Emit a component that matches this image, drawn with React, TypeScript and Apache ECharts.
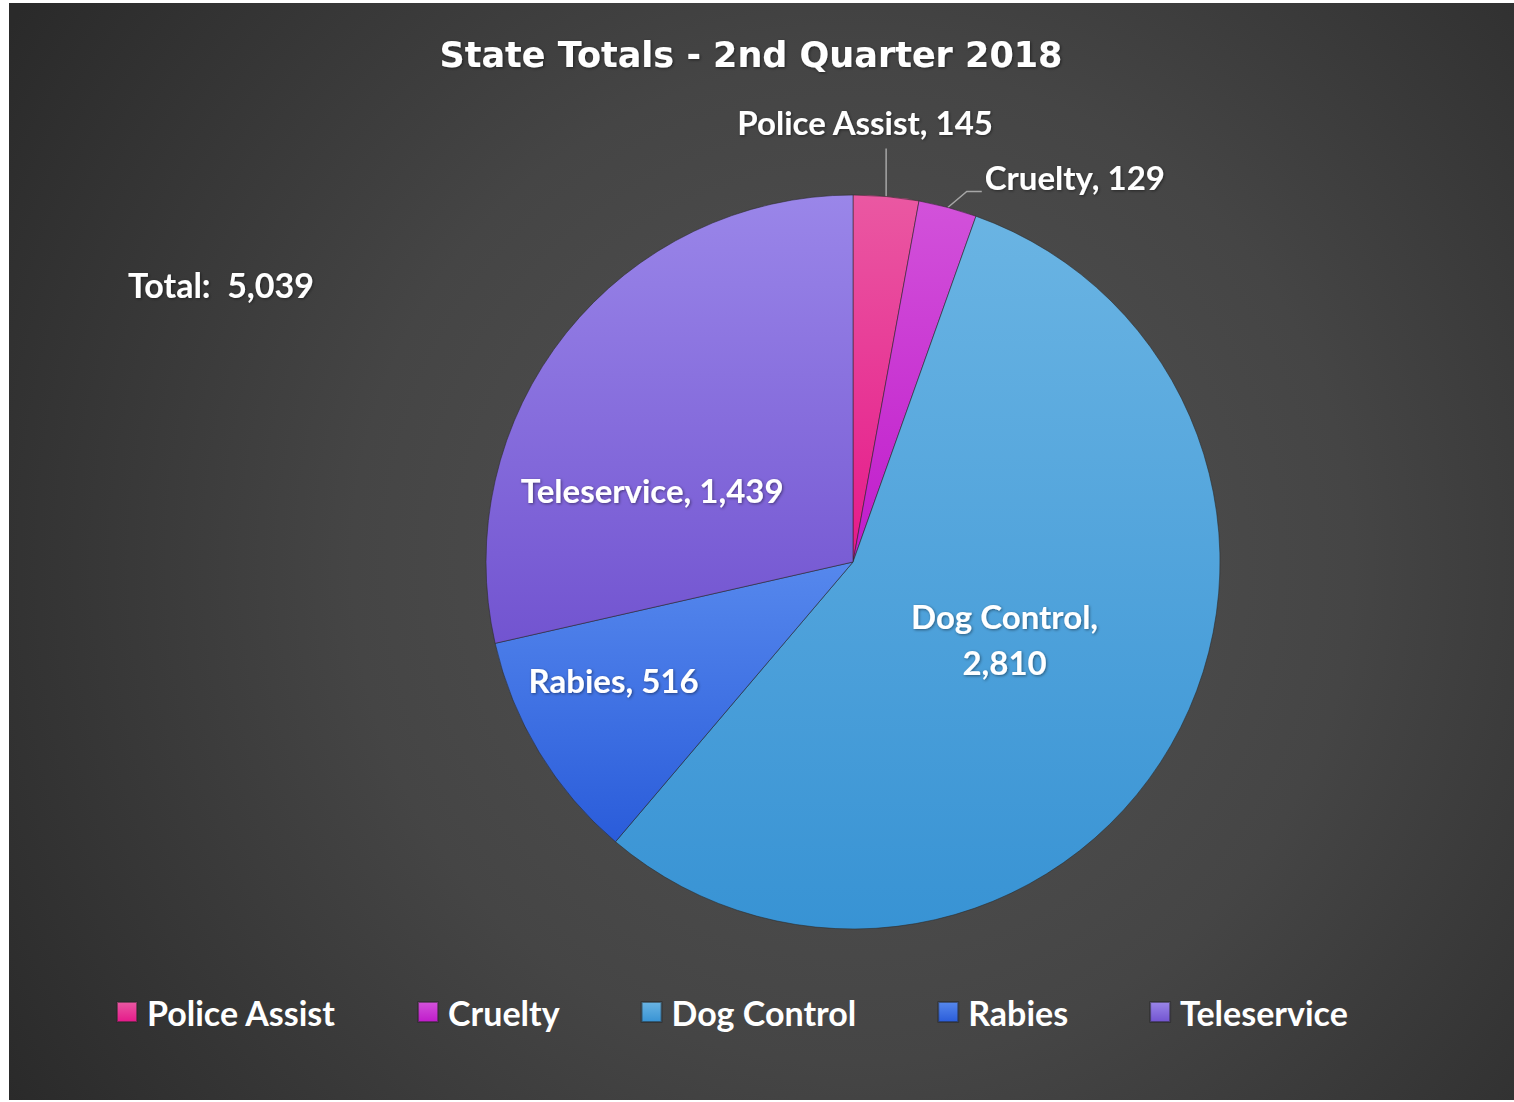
import React, { useEffect, useRef } from 'react';
import * as echarts from 'echarts';

const categories = ['Police Assist', 'Cruelty', 'Dog Control', 'Rabies', 'Teleservice'];
const values = [145, 129, 2810, 516, 1439];
const topColors = ['#ea58a2', '#d252da', '#6ab4e3', '#5688ed', '#9a86e9'];
const bottomColors = ['#e5198a', '#c01bcb', '#3893d4', '#2a5cda', '#7254d0'];
const titleText = 'State Totals - 2nd Quarter 2018';
const totalText = 'Total:  5,039';

const FONT = 'Lato';

function fmt(n: number) {
  return n.toLocaleString('en-US');
}

export default function App() {
  const ref = useRef<HTMLDivElement>(null);
  useEffect(() => {
    if (!ref.current) return;
    const chart = echarts.init(ref.current, undefined, { renderer: 'svg' });
    const grad = (i: number) =>
      new echarts.graphic.LinearGradient(0, 0, 0, 1, [
        { offset: 0, color: topColors[i] },
        { offset: 1, color: bottomColors[i] },
      ]);
    const outside = [true, true, false, false, false];
    const data = categories.map((name, i) => ({
      name,
      value: values[i],
      itemStyle: { color: grad(i) },
      label: { position: outside[i] ? 'outside' : 'inside' },
      labelLine: { show: outside[i] },
    }));
    const innerShift: Record<number, [number, number]> = {
      2: [-10, -16],
      3: [-80, 21],
      4: [-55, 44],
    };
    const labelStyle = {
      color: '#ffffff',
      fontFamily: FONT,
      fontWeight: 'bold' as const,
      fontSize: 33,
      lineHeight: 46,
      textShadowColor: 'rgba(0,0,0,0.45)',
      textShadowBlur: 3,
      textShadowOffsetX: 1,
      textShadowOffsetY: 1,
    };
    chart.setOption({
      animation: false,
      graphic: [
        {
          type: 'rect',
          z: -10,
          silent: true,
          shape: { x: 0, y: 0, width: 1505, height: 1097 },
          style: {
            fill: new echarts.graphic.RadialGradient(
              844,
              560,
              1000,
              [
                { offset: 0, color: '#535353' },
                { offset: 0.5, color: '#454545' },
                { offset: 1, color: '#2a2a2a' },
              ],
              true
            ),
          },
        },
        {
          type: 'text',
          x: 742,
          y: 52,
          style: {
            text: titleText,
            fill: '#ffffff',
            font: `bold 35px "DejaVu Sans"`,
            align: 'center',
            verticalAlign: 'middle',
            textShadowColor: 'rgba(0,0,0,0.5)',
            textShadowBlur: 3,
            textShadowOffsetX: 1,
            textShadowOffsetY: 1,
          },
        },
        {
          type: 'text',
          x: 119,
          y: 281,
          style: {
            text: totalText,
            fill: '#ffffff',
            font: `bold 34px ${FONT}`,
            align: 'left',
            verticalAlign: 'middle',
            textShadowColor: 'rgba(0,0,0,0.45)',
            textShadowBlur: 3,
            textShadowOffsetX: 1,
            textShadowOffsetY: 1,
          },
        },
      ],
      legend: {
        left: 107,
        top: 992,
        padding: 0,
        icon: 'rect',
        itemWidth: 20,
        itemHeight: 20,
        itemGap: 81,
        data: categories,
        textStyle: {
          color: '#ffffff',
          fontFamily: FONT,
          fontWeight: 'bold',
          fontSize: 34,
          padding: [0, 0, 0, 5],
        },
      },
      series: [
        {
          type: 'pie',
          center: [844, 559],
          radius: 367,
          startAngle: 90,
          clockwise: true,
          avoidLabelOverlap: false,
          itemStyle: { borderColor: 'rgba(40,40,40,0.55)', borderWidth: 1 },
          label: {
            ...labelStyle,
            formatter: (p: any) =>
              p.dataIndex === 2 ? `${p.name},\n${fmt(p.value)}` : `${p.name}, ${fmt(p.value)}`,
          },
          labelLine: {
            lineStyle: { color: '#a6a6a6', width: 1.5 },
            length: 20,
            length2: 15,
          },
          labelLayout: (p: any) => {
            const i = p.dataIndex;
            if ((i === 0 || i === 1) && p.labelLinePoints) {
              const a = p.labelLinePoints[0];
              if (i === 0) {
                return {
                  x: a[0] - 21,
                  y: a[1] - 74,
                  align: 'center',
                  verticalAlign: 'middle',
                  labelLinePoints: [
                    [a[0], a[1]],
                    [a[0], a[1] - 48],
                  ],
                };
              }
              return {
                x: a[0] + 37,
                y: a[1] - 30,
                align: 'left',
                verticalAlign: 'middle',
                labelLinePoints: [
                  [a[0], a[1]],
                  [a[0] + 19, a[1] - 16],
                  [a[0] + 34, a[1] - 16],
                ],
              };
            }
            const s = innerShift[i];
            if (s) return { dx: s[0], dy: s[1] };
            return {};
          },
          data,
        },
      ],
    });
    return () => chart.dispose();
  }, []);
  return (
    <div style={{ position: 'absolute', left: 0, top: 0, width: 1514, height: 1102, background: '#ffffff' }}>
      <div
        ref={ref}
        style={{ position: 'absolute', left: 9, top: 3, width: 1505, height: 1097 }}
      />
    </div>
  );
}
